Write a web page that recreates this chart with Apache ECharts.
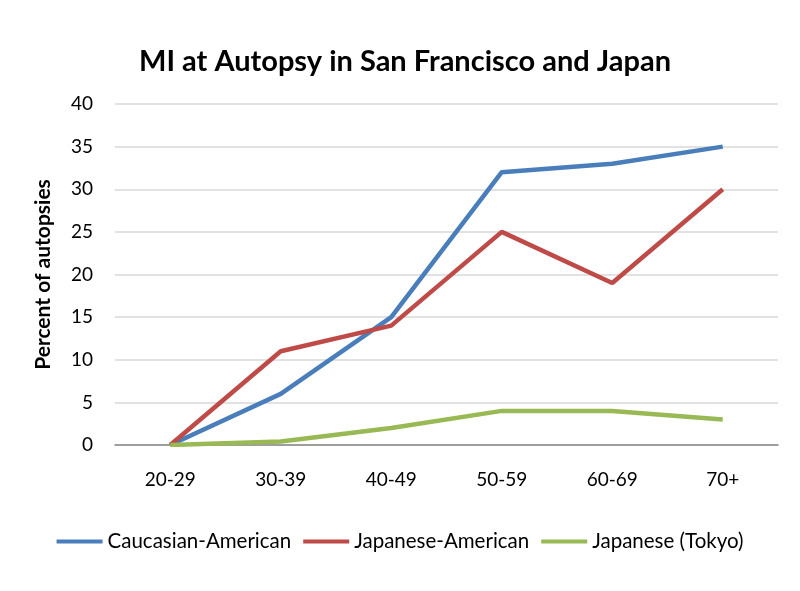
<!DOCTYPE html>
<html><head><meta charset="utf-8">
<script src="https://cdn.jsdelivr.net/npm/echarts@6/dist/echarts.min.js"></script>
<style>html,body{margin:0;padding:0;background:#fff}#c{width:800px;height:591px}</style>
</head><body><div id="c"></div>
<script>
const categories = ['20-29','30-39','40-49','50-59','60-69','70+'];
const caucasian = [0, 6, 15, 32, 33, 35];
const japAmerican = [0, 11, 14, 25, 19, 30];
const japTokyo = [0, 0.4, 2, 4, 4, 3];
const seriesNames = ['Caucasian-American','Japanese-American','Japanese (Tokyo)'];
const colors = ['#4a7ebb','#be4b48','#98b954'];
const font = 'Lato, "Open Sans", sans-serif';
const chart = echarts.init(document.getElementById('c'));
const mk = (name, data, color) => ({
  name, type:'line', data, symbol:'none', smooth:false,
  lineStyle:{width:4.5, color}, itemStyle:{color}
});
chart.setOption({
  animation:false,
  title:{text:'MI at Autopsy in San Francisco and Japan', left:400, top:42, textAlign:'center',
    textStyle:{fontFamily:font, fontWeight:'bold', fontSize:29, color:'#000'}},
  grid:{left:115, right:22, top:104, bottom:146},
  legend:{top:526, left:'center', itemWidth:46, itemHeight:4, itemGap:12,
    icon:'rect',
    textStyle:{fontFamily:font, fontSize:20.5, color:'#000'}, data:seriesNames},
  xAxis:{type:'category', data:categories, boundaryGap:true,
    axisLine:{lineStyle:{color:'#888', width:1.5}}, axisTick:{show:false},
    axisLabel:{fontFamily:font, fontSize:19, color:'#000', margin:25}},
  yAxis:{type:'value', min:0, max:40, interval:5,
    name:'Percent of autopsies', nameLocation:'middle', nameGap:61,
    nameTextStyle:{fontFamily:font, fontSize:21, fontWeight:'bold', color:'#000'},
    axisLine:{show:false}, axisTick:{show:false},
    axisLabel:{fontFamily:font, fontSize:19, color:'#000', margin:22},
    splitLine:{lineStyle:{color:'#d9d9d9', width:1.5}}},
  series:[mk(seriesNames[0], caucasian, colors[0]), mk(seriesNames[1], japAmerican, colors[1]), mk(seriesNames[2], japTokyo, colors[2])]
});
</script></body></html>
